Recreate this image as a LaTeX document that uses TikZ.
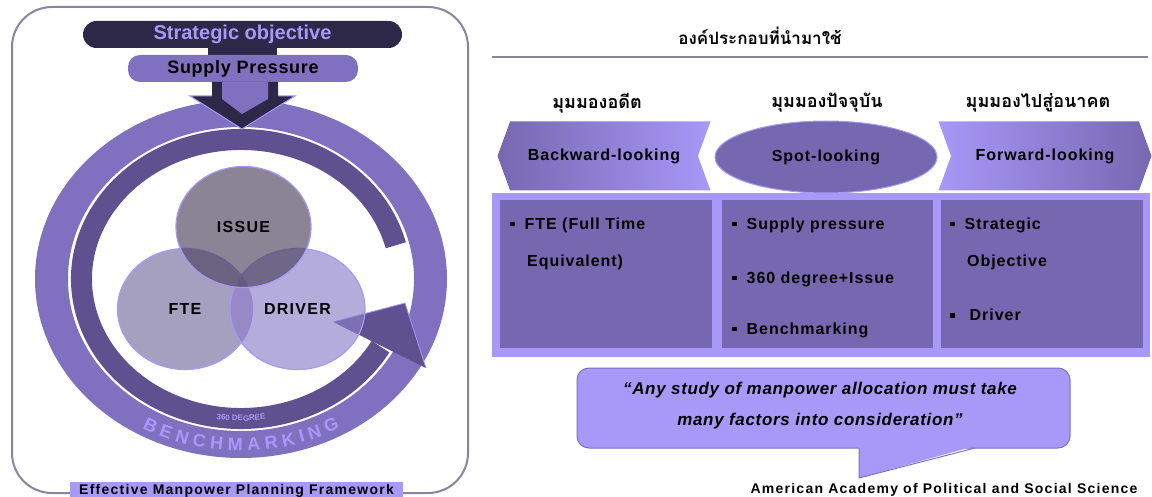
\documentclass[tikz,border=0pt]{standalone}
\usepackage{fontspec}
\setmainfont{Liberation Sans}
\newfontfamily\thaifont[Script=Thai]{Loma}
\usepackage{xcolor}
\usetikzlibrary{shapes,positioning,calc,decorations.text}

\definecolor{navy}{HTML}{2E2848}
\definecolor{lilac}{HTML}{8070C0}
\definecolor{darklilac}{HTML}{5F5090}
\definecolor{palelilac}{HTML}{A898F8}
\definecolor{panelc}{HTML}{7668B0}
\definecolor{framec}{HTML}{8A84A0}
\definecolor{issuec}{HTML}{4B425B}
\definecolor{ftec}{HTML}{756C9E}
\definecolor{driverc}{HTML}{8C80C8}

\newcommand{\sqbullet}{\raisebox{3pt}{\rule{4.5pt}{4.5pt}}\hspace{10pt}}
\newcommand{\spaced}[1]{\addfontfeature{LetterSpace=#1}}

\begin{document}
\begin{tikzpicture}[x=1pt,y=-1pt,
  venn/.style={ellipse,draw=palelilac,line width=1.2pt,fill opacity=0.65,text opacity=1,
    minimum width=135pt,minimum height=121pt,font=\fontsize{16}{18}\selectfont\bfseries\spaced{8}},
  item/.style={anchor=west,inner sep=0pt,font=\fontsize{16}{18}\selectfont\bfseries\spaced{6}},
  thaihead/.style={inner sep=0pt,font=\fontsize{18}{20}\selectfont\thaifont\bfseries},
  chevron/.style={signal,signal pointer angle=140,minimum width=213pt,minimum height=69pt,
    inner sep=0pt,font=\fontsize{16}{18}\selectfont\bfseries\spaced{6}}]
  \useasboundingbox (0,0) rectangle (1152,497);

  % left panel
  \draw[framec,line width=2pt,rounded corners=40pt] (12,7) rectangle (468,493);
  \fill[lilac,even odd rule] (241,279) ellipse[x radius=206,y radius=179]
    (241,279) ellipse[x radius=173,y radius=152];
  \draw[darklilac,line width=21pt] (241,279) ++(-14:159.5 and 139.5)
    arc[start angle=-14,end angle=-331,x radius=159.5,y radius=139.5];
  \fill[darklilac] (333,322) -- (405,303) -- (426,368) -- cycle;
  \draw[palelilac,line width=0.8pt] (333,322) -- (405,303) -- (426,368);

  \path[decorate,decoration={text along path,text align=center,
    text={|\fontsize{18}{18}\selectfont\bfseries\color{palelilac}|B E N C H M A R K I N G}}]
    (241,279) ++(125:198 and 172) arc[start angle=125,end angle=55,x radius=198,y radius=172];
  \path[decorate,decoration={text along path,text align=center,
    text={|\fontsize{8}{8}\selectfont\bfseries\color{palelilac}|360 DEGREE}}]
    (241,279) ++(102:160 and 142) arc[start angle=102,end angle=78,x radius=160,y radius=142];

  \fill[navy] (208,45) rectangle (277,57);
  \node[fill=navy,rounded corners=13.5pt,minimum width=319pt,minimum height=27pt,inner sep=0pt,
    text=palelilac,font=\fontsize{20}{20}\selectfont\bfseries] (strat) at (242.5,34.5) {Strategic objective};
  \node[fill=lilac,rounded corners=12pt,minimum width=230pt,minimum height=27pt,inner sep=0pt,
    font=\fontsize{18}{18}\selectfont\bfseries\spaced{4}] (supply) at (243,68.5) {Supply Pressure};
  \fill[navy] (212,82) -- (212,96) -- (190,96) -- (242,129) -- (295,96) -- (278,96) -- (278,82) -- cycle;
  \draw[palelilac,line width=1pt] (212,96) -- (190,96) -- (242,129) -- (295,96) -- (278,96);
  \fill[lilac] (222,82) -- (222,99) -- (242,114) -- (268,99) -- (268,82) -- cycle;

  \node[venn,fill=ftec] (fte) at (185,309) {FTE};
  \node[venn,fill=driverc] (driver) at (297.5,309) {DRIVER};
  \node[venn,fill=issuec] (issue) at (243.5,227) {ISSUE};

  \node[fill=palelilac,minimum width=333pt,minimum height=18pt,inner sep=0pt,anchor=north,
    font=\fontsize{14}{14}\selectfont\bfseries\spaced{9}] (caption) at (236.5,482) {Effective Manpower Planning Framework};

  % right panel
  \node[inner sep=0pt,font=\fontsize{17}{17}\selectfont\thaifont\bfseries] (title) at (760,36) {องค์ประกอบที่นำมาใช้};
  \draw[framec,line width=2pt] (492,57) -- (1148,57);

  \node[thaihead] (past) at (597,103) {มุมมองอดีต};
  \node[thaihead] (now) at (827,103) {มุมมองปัจจุบัน};
  \node[thaihead] (future) at (1038,103) {มุมมองไปสู่อนาคต};

  \node[chevron,signal to=west,signal from=east,left color=panelc,right color=palelilac] (back) at (604,156) {Backward-looking};
  \node[ellipse,fill=panelc,draw=palelilac,line width=1pt,minimum width=222pt,minimum height=72pt,
    font=\fontsize{16}{18}\selectfont\bfseries\spaced{6}] (spot) at (826,157) {Spot-looking};
  \node[chevron,signal to=east,signal from=west,left color=palelilac,right color=panelc] (fwd) at (1045,156) {Forward-looking};

  \fill[palelilac] (492,193) rectangle (1150,357);
  \node[fill=panelc,minimum width=212pt,minimum height=148pt] (p1) at (606,274) {};
  \node[fill=panelc,minimum width=211pt,minimum height=148pt] (p2) at (827.5,274) {};
  \node[fill=panelc,minimum width=202pt,minimum height=148pt] (p3) at (1042,274) {};

  \node[item] (fte1) at (510,225) {\sqbullet FTE (Full Time};
  \node[item] (fte2) at (527,262) {Equivalent)};
  \node[item] (sup1) at (732,225) {\sqbullet Supply pressure};
  \node[item] (sup2) at (732,279) {\sqbullet 360 degree+Issue};
  \node[item] (sup3) at (732,330) {\sqbullet Benchmarking};
  \node[item] (obj1) at (950,225) {\sqbullet Strategic};
  \node[item] (obj2) at (967,262) {Objective};
  \node[item] (obj3) at (950,315) {\sqbullet\hspace{5pt}Driver};

  % quote
  \node[fill=palelilac,draw=lilac,line width=1pt,rounded corners=12pt,minimum width=493pt,minimum height=80pt] (quote) at (823.5,408) {};
  \fill[palelilac] (859,446) -- (975,446) -- (859,478) -- cycle;
  \draw[lilac,line width=1pt] (859,448) -- (859,478) -- (975,448);
  \node[align=center,inner sep=0pt,font=\fontsize{17}{31}\selectfont\bfseries\itshape\spaced{4}] (qtext) at (820,406)
    {“Any study of manpower allocation must take\\many factors into consideration”};
  \node[inner sep=0pt,font=\fontsize{14}{14}\selectfont\bfseries\spaced{9}] (src) at (944,490) {American Academy of Political and Social Science};
\end{tikzpicture}
\end{document}
